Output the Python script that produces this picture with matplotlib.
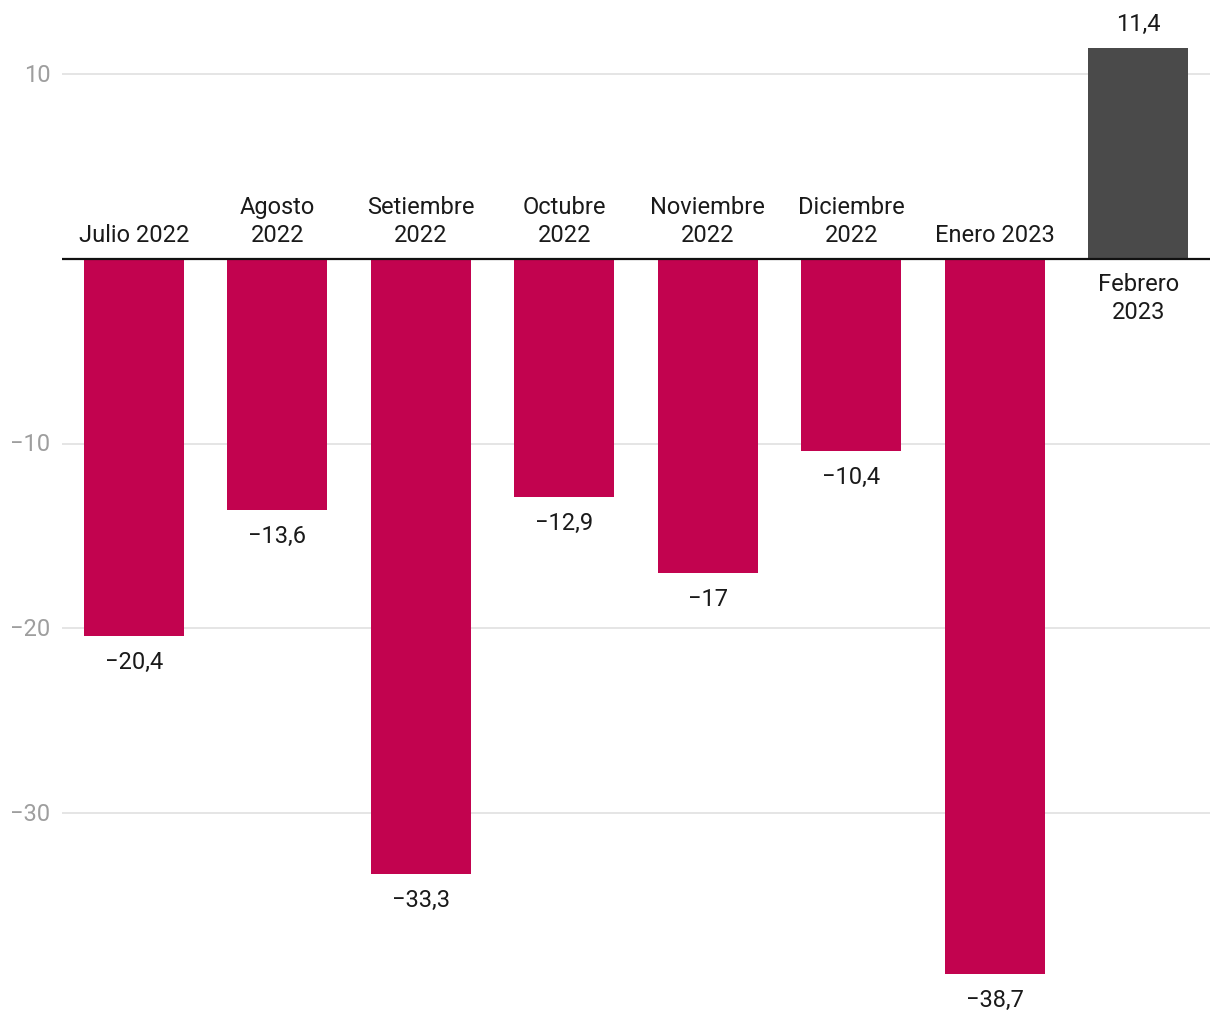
import matplotlib.pyplot as plt

plt.rcParams['font.family'] = ['Roboto', 'DejaVu Sans']

# Data
categories = ['Julio 2022', 'Agosto\n2022', 'Setiembre\n2022', 'Octubre\n2022',
              'Noviembre\n2022', 'Diciembre\n2022', 'Enero 2023', 'Febrero\n2023']
values = [-20.4, -13.6, -33.3, -12.9, -17.0, -10.4, -38.7, 11.4]
value_labels = ['−20,4', '−13,6', '−33,3', '−12,9', '−17', '−10,4', '−38,7', '11,4']
yticks = [10, -10, -20, -30]
ytick_labels = ['10', '−10', '−20', '−30']

neg_color = '#C2034F'
pos_color = '#4A4A4A'

fig = plt.figure(figsize=(12.2, 10.2), dpi=100)
ax = fig.add_axes([62 / 1220, 0, 1148 / 1220, 1])
ax.set_xlim(-0.5, len(categories) - 0.5)
ax.set_ylim(-41.15, 14.08)

for y, lab in zip(yticks, ytick_labels):
    ax.axhline(y, color='#e0e0e0', lw=1.2, zorder=0)
    ax.text(-0.58, y, lab, ha='right', va='center', fontsize=17, color='#9e9e9e')

x = range(len(categories))
colors = [neg_color if v < 0 else pos_color for v in values]
ax.bar(x, values, width=0.7, color=colors, zorder=2)
ax.axhline(0, color='#111111', lw=1.6, zorder=3)

for i, (v, lab, cat) in enumerate(zip(values, value_labels, categories)):
    if v < 0:
        ax.text(i, v - 0.75, lab, ha='center', va='top', fontsize=17, color='#1a1a1a')
        ax.text(i, 0.7, cat, ha='center', va='bottom', fontsize=17, color='#1a1a1a',
                linespacing=1.3)
    else:
        ax.text(i, v + 0.75, lab, ha='center', va='bottom', fontsize=17, color='#1a1a1a')
        ax.text(i, -0.7, cat, ha='center', va='top', fontsize=17, color='#1a1a1a',
                linespacing=1.3)

ax.axis('off')
fig.savefig('out.png', dpi=100)
